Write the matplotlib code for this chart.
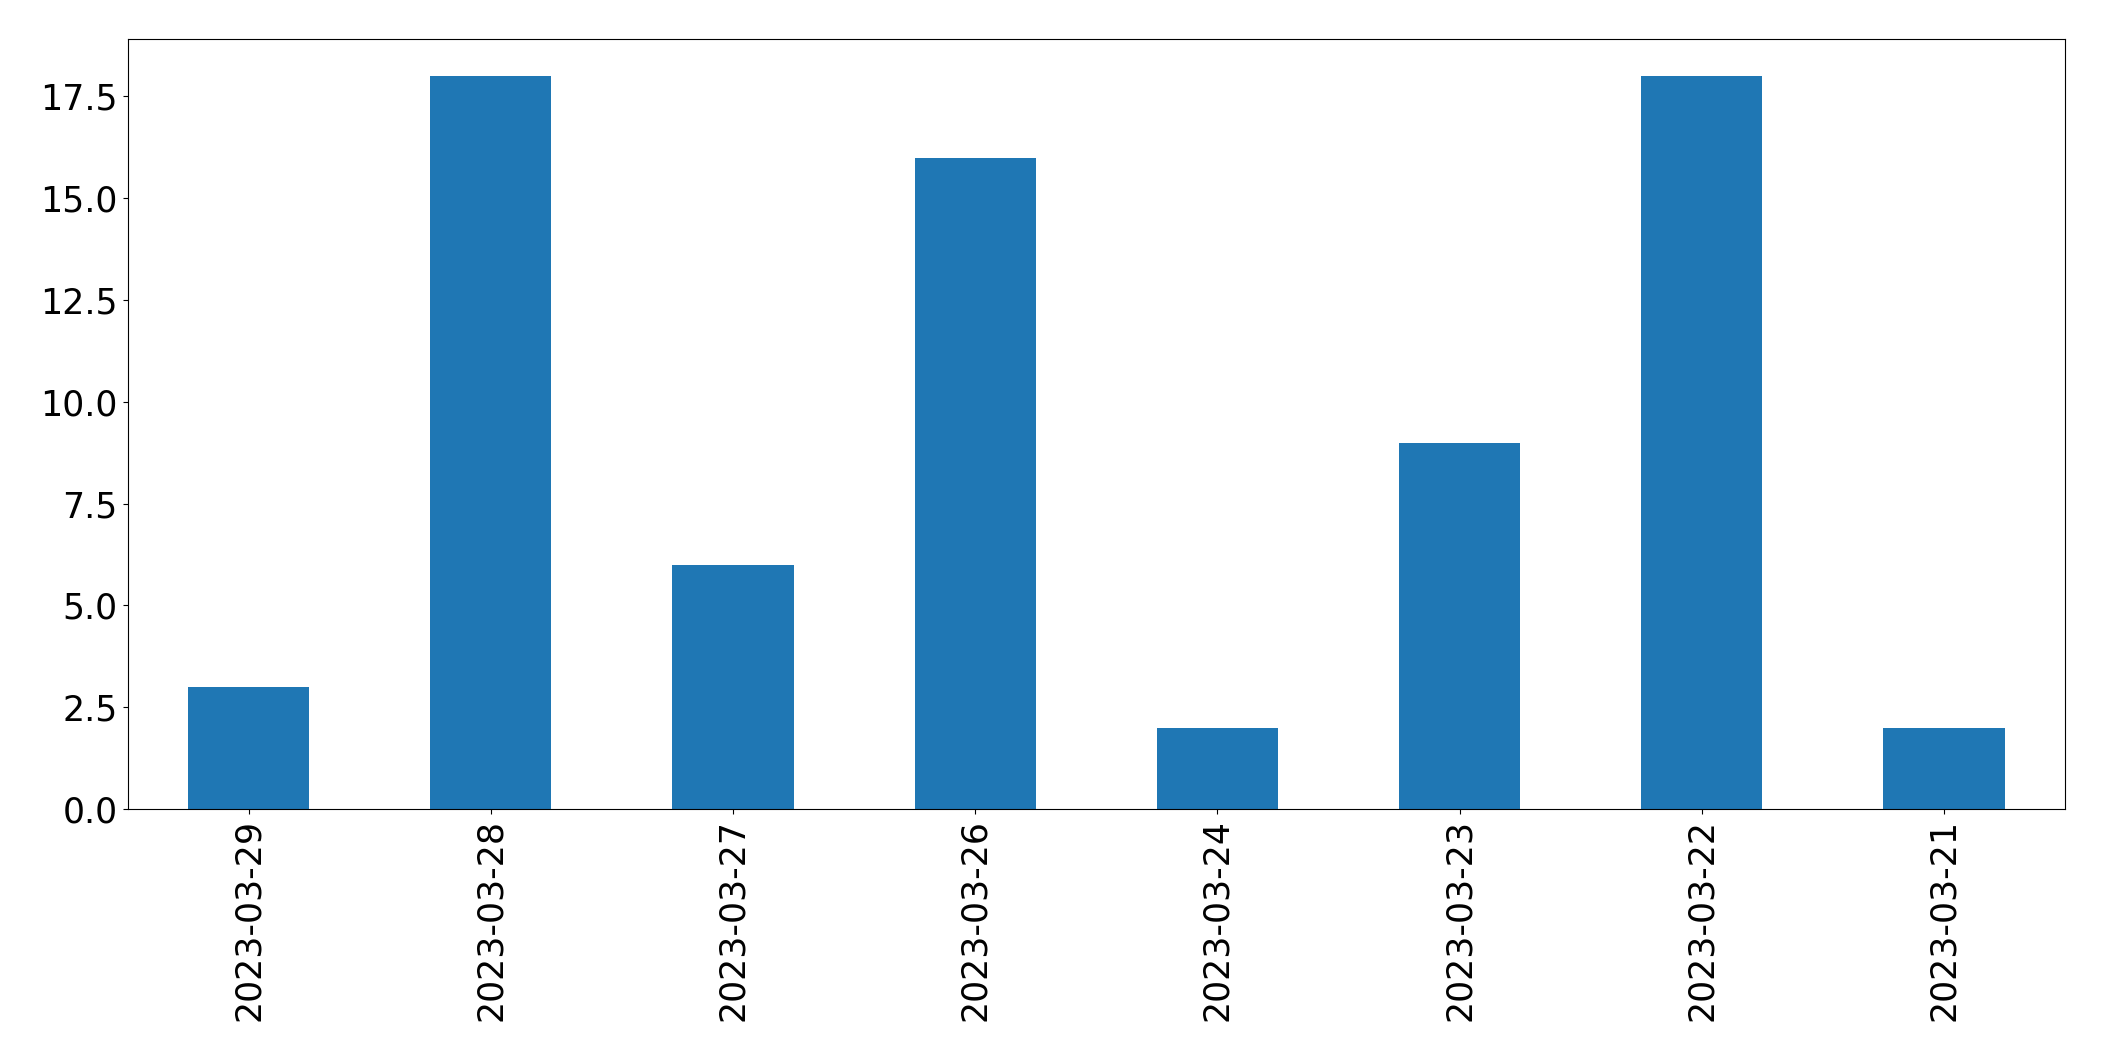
import numpy as np
import pandas as pd
import matplotlib.pyplot as plt

dates = ["2023-03-29", "2023-03-28", "2023-03-27", "2023-03-26",
         "2023-03-24", "2023-03-23", "2023-03-22", "2023-03-21"]
counts = [3, 18, 6, 16, 2, 9, 18, 2]

series = pd.Series(counts, index=dates)

fig = plt.figure(figsize=(21.04, 10.61), dpi=100)
ax = fig.add_axes([0.0606, 0.2375, 0.9209, 0.7253])
series.plot(kind="bar", ax=ax, color="#1f77b4", width=0.5, linewidth=0)
ax.tick_params(axis="both", labelsize=25)
for lbl in ax.get_xticklabels():
    lbl.set_rotation(90)

fig.savefig("out.png", dpi=100)
